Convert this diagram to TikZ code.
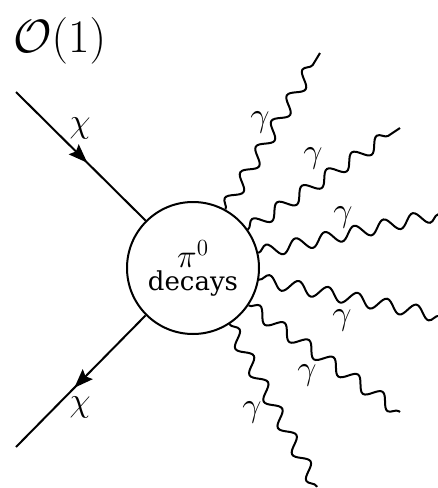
\documentclass[tikz,border=0pt]{standalone}
\usepackage{fontspec}
\newfontfamily\decfont{DejaVu Serif}
\usetikzlibrary{decorations.pathmorphing,decorations.markings,arrows.meta}
\begin{document}
\begin{tikzpicture}[x=1pt,y=-1pt,
  line width=2pt,
  photon/.style={decorate,decoration={snake,segment length=30pt,amplitude=6.5pt}},
  fermion/.style={postaction={decorate},decoration={markings,mark=at position 0.55 with {\arrow{Stealth[length=19pt,width=14pt,inset=3pt]}}}},
  lab/.style={font=\fontsize{20}{20}\selectfont, scale=1.65, inner sep=0pt},
  blobstyle/.style={draw,circle,minimum size=132pt,inner sep=0pt,align=center,font=\decfont\fontsize{26}{23}\selectfont}]
\useasboundingbox (0,0) rectangle (438,488);
\node[anchor=base west,inner sep=0pt,scale=2.25,font=\fontsize{20}{20}\selectfont] (title) at (11,52) {$\mathcal{O}(1)$};
\node[blobstyle] (b) at (193,268) {\scalebox{1.6}{\fontsize{20}{20}\selectfont$\pi^0$}\\decays};
\coordinate (f1) at (16,92);
\coordinate (f2) at (16,447);
\draw[fermion] (f1) -- (b.135);
\draw[fermion] (b.225) -- (f2);
\node[lab] (chi1) at (80,128) {$\chi$};
\node[lab] (chi2) at (80,407) {$\chi$};
\coordinate (g1) at (320,53);
\coordinate (g2) at (400,128);
\coordinate (g3) at (440,214);
\coordinate (g4) at (440,316);
\coordinate (g5) at (400,412);
\coordinate (g6) at (317,487);
\draw[photon] (b.61) -- (g1);
\draw[photon] (b.35) -- (g2);
\draw[photon] (b.13) -- (g3);
\draw[photon] (b.-10) -- (g4);
\draw[photon] (b.-34) -- (g5);
\draw[photon] (b.-57) -- (g6);
\node[lab] (l1) at (260,122) {$\gamma$};
\node[lab] (l2) at (313,158) {$\gamma$};
\node[lab] (l3) at (343,217) {$\gamma$};
\node[lab] (l4) at (342,320) {$\gamma$};
\node[lab] (l5) at (307,375) {$\gamma$};
\node[lab] (l6) at (252,412) {$\gamma$};
\end{tikzpicture}
\end{document}
